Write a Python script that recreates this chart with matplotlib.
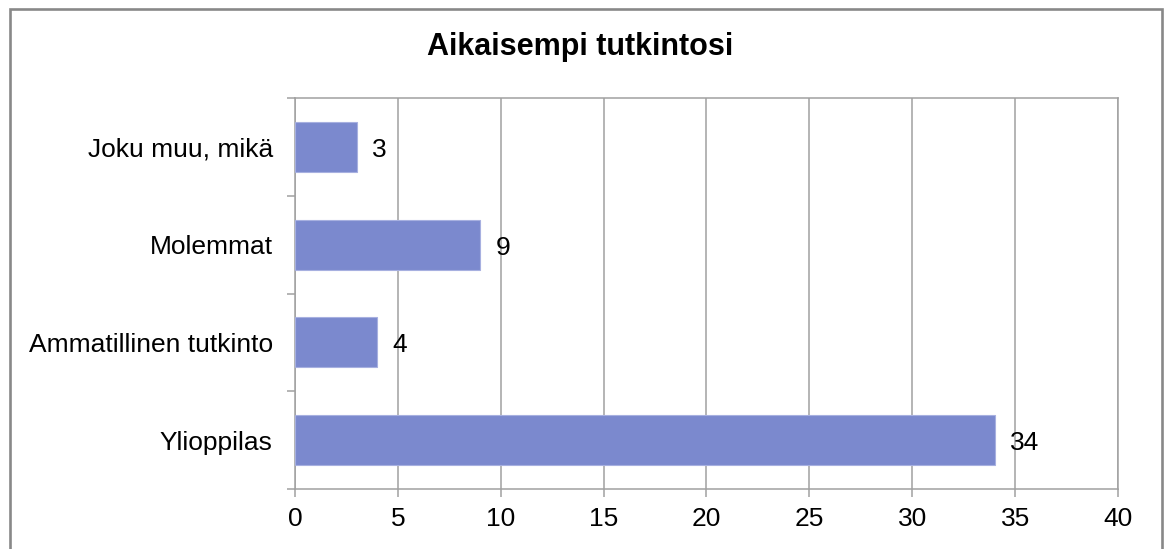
import matplotlib
matplotlib.use("Agg")
import matplotlib.pyplot as plt
from matplotlib.patches import Rectangle

categories = ["Ylioppilas", "Ammatillinen tutkinto", "Molemmat", "Joku muu, mikä"]
values = [34, 4, 9, 3]
xticks = [0, 5, 10, 15, 20, 25, 30, 35, 40]
title = "Aikaisempi tutkintosi"

plt.rcParams['font.family'] = ['Liberation Sans', 'DejaVu Sans']

W, H = 1168, 549
fig = plt.figure(figsize=(W / 100, H / 100), dpi=100)
ax = fig.add_axes([295 / W, 1 - 489 / H, (1118 - 295) / W, (489 - 98) / H])

grid_c = '#a0a0a0'
fs = 19
ypos = list(range(len(categories)))
ax.barh(ypos, values, height=0.51, color='#7B89CE', edgecolor='#a7b0e0', linewidth=0.8, zorder=3)
for y, v in zip(ypos, values):
    ax.text(v + 0.75, y - 0.03, str(v), va='center', ha='left', fontsize=fs, color='black', zorder=4)

ax.set_xlim(0, 40)
ax.set_ylim(-0.5, len(categories) - 0.5)
ax.set_xticks(xticks)
ax.set_xticklabels([str(t) for t in xticks], fontsize=fs)
ax.set_yticks(ypos)
ax.set_yticklabels(categories, fontsize=fs)
ax.set_yticks([i - 0.5 for i in range(len(categories) + 1)], minor=True)
ax.tick_params(axis='y', which='major', length=0, pad=16)
ax.tick_params(axis='y', which='minor', length=6, width=1.1, color=grid_c)
ax.tick_params(axis='x', which='major', length=6, width=1.1, color=grid_c, pad=7)
ax.xaxis.grid(True, color=grid_c, linewidth=1.1, zorder=0)
ax.set_axisbelow(True)
for s in ax.spines.values():
    s.set_color(grid_c)
    s.set_linewidth(1.1)

fig.text(580 / W, 1 - 47 / H, title, ha='center', va='center', fontsize=22, fontweight='bold')

fig.patches.append(Rectangle((9.5 / W, -0.05), (1162 - 9.5) / W, 1.05 - 8.5 / H,
                             transform=fig.transFigure, fill=False,
                             edgecolor='#888888', linewidth=1.9, clip_on=False))

fig.savefig("out.png", dpi=100)
